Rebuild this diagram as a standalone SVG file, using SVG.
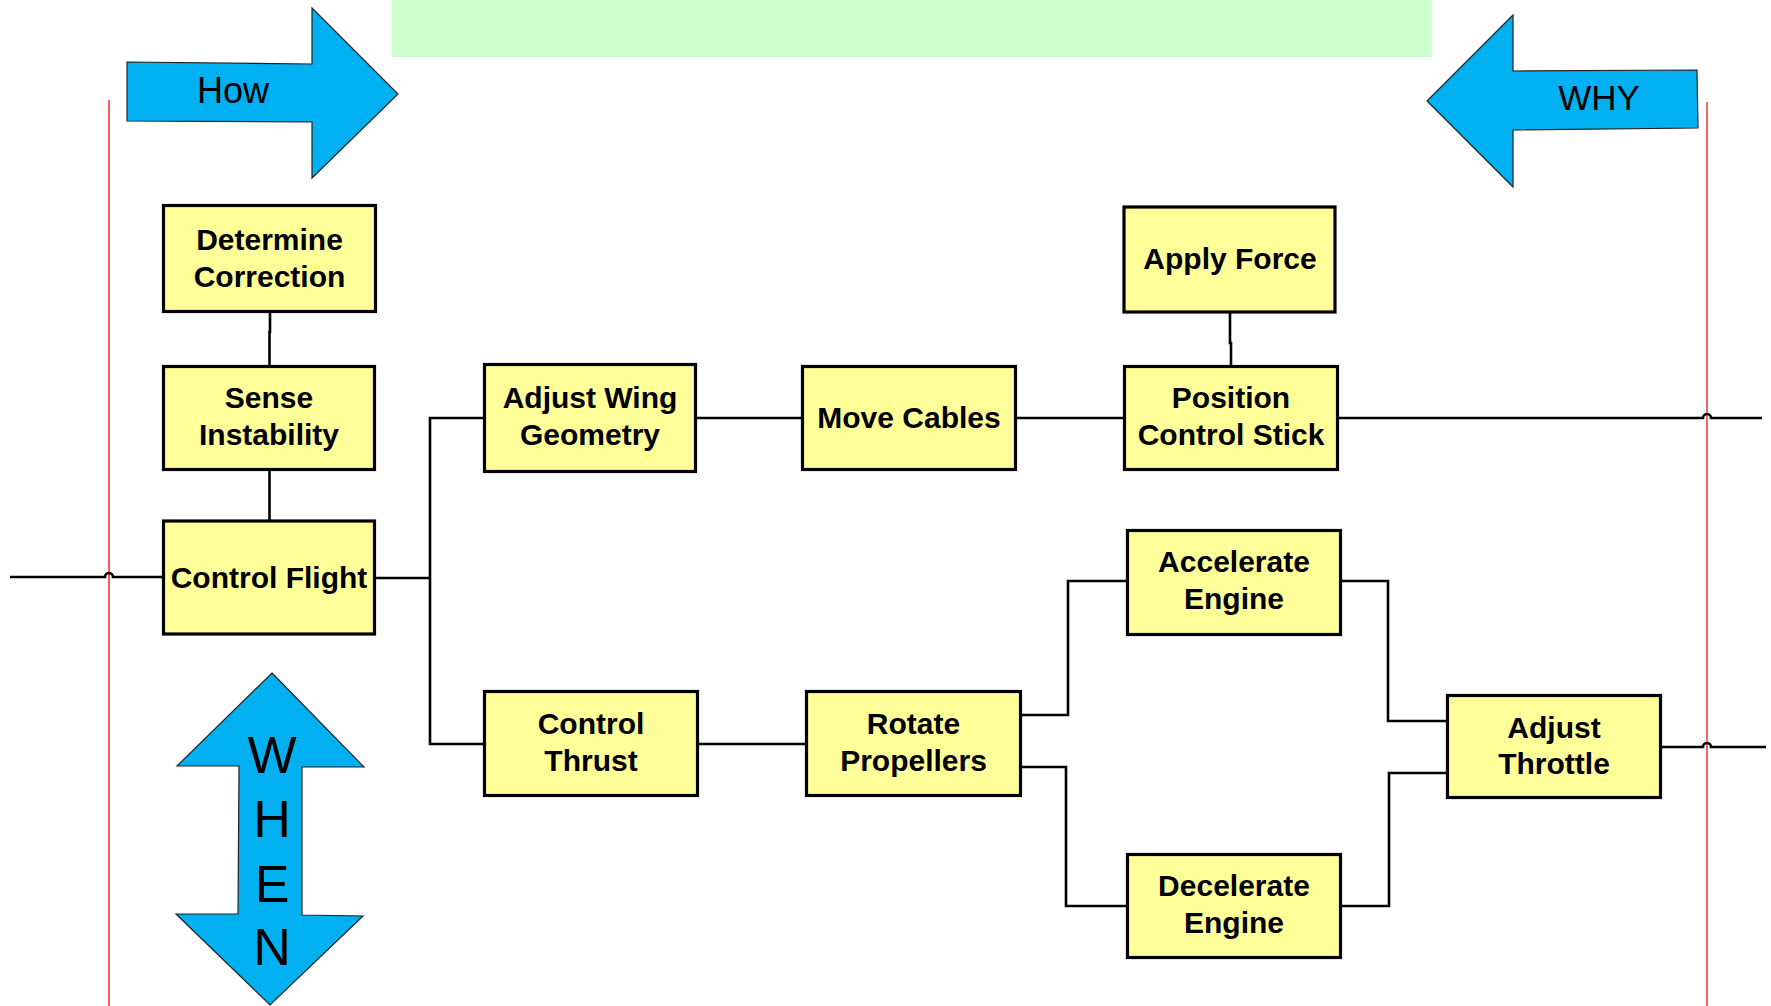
<svg xmlns="http://www.w3.org/2000/svg" width="1771" height="1006" viewBox="0 0 1771 1006">
<style>
.box{fill:#ffff99;stroke:#000;stroke-width:3.2}
.lbl{font-family:"Liberation Sans",Arial,sans-serif;font-weight:bold;font-size:30px;fill:#000;text-anchor:middle}
.arr{fill:#00b0f0;stroke:#222;stroke-width:1.2}
.atx{font-family:"Liberation Sans",Arial,sans-serif;fill:#000;text-anchor:middle}
.con{fill:none;stroke:#000;stroke-width:2.6}
</style>
<rect x="0" y="0" width="1771" height="1006" fill="#fff"/>
<rect x="392" y="0" width="1040" height="57" fill="#ccffcc"/>
<line x1="109" y1="100" x2="109" y2="1006" stroke="#ff0000" stroke-width="1.3"/>
<line x1="1707" y1="102" x2="1707" y2="1006" stroke="#f26666" stroke-width="2"/>
<g id="arrow-how">
<polygon class="arr" points="127,62 312,64 312,8 398,94 312,178 312,122 127,121"/>
<text class="atx" x="233" y="103" font-size="36">How</text>
</g>
<g id="arrow-why">
<polygon class="arr" points="1427,101 1513,15 1513,71 1697,70 1698,128 1513,130 1513,187"/>
<text class="atx" x="1599" y="110" font-size="35">WHY</text>
</g>
<g id="arrow-when">
<polygon class="arr" points="272,673 364,767 302,767 302,915 363,916 270,1005 176,914 238,914 239,766 177,766"/>
<text class="atx" x="272" y="773" font-size="52">W</text>
<text class="atx" x="272" y="837" font-size="52">H</text>
<text class="atx" x="272" y="902" font-size="52">E</text>
<text class="atx" x="272" y="965" font-size="52">N</text>
</g>
<g id="connectors">
<path class="con" d="M270,313 V332 H269.5 V365"/>
<path class="con" d="M269.5,471 V520"/>
<path class="con" stroke-width="1.8" d="M10,577 H105 a4,4 0 0 1 8,0 H162"/>
<path class="con" d="M376,578 H430"/>
<path class="con" d="M483,418 H430 V744 H483"/>
<path class="con" d="M697,418 H801"/>
<path class="con" d="M1017,418 H1123"/>
<path class="con" d="M1230,313 V343 H1231 V365"/>
<path class="con" d="M1339,418 H1703 a4,4 0 0 1 8,0 H1762"/>
<path class="con" d="M699,744 H805"/>
<path class="con" d="M1022,715 H1068 V581 H1126"/>
<path class="con" d="M1022,767 H1066 V906 H1126"/>
<path class="con" d="M1342,581 H1388 V721 H1446"/>
<path class="con" d="M1342,906 H1389 V773 H1446"/>
<path class="con" d="M1662,747 H1703 a4,4 0 0 1 8,0 H1766"/>
</g>
<g id="determine-correction">
<rect class="box" x="163.5" y="205.5" width="212" height="106"/>
<text class="lbl" x="269.5" y="250">Determine</text>
<text class="lbl" x="269.5" y="287">Correction</text>
</g>
<g id="sense-instability">
<rect class="box" x="163.5" y="366.5" width="211" height="103"/>
<text class="lbl" x="269" y="408">Sense</text>
<text class="lbl" x="269" y="445">Instability</text>
</g>
<g id="control-flight">
<rect class="box" x="163.5" y="521" width="211" height="113"/>
<text class="lbl" x="269" y="588">Control Flight</text>
</g>
<g id="adjust-wing-geometry">
<rect class="box" x="484.5" y="364.5" width="211" height="107"/>
<text class="lbl" x="590" y="408">Adjust Wing</text>
<text class="lbl" x="590" y="445">Geometry</text>
</g>
<g id="move-cables">
<rect class="box" x="802.5" y="366.5" width="213" height="103"/>
<text class="lbl" x="909" y="428">Move Cables</text>
</g>
<g id="apply-force">
<rect class="box" x="1124" y="207" width="211" height="105"/>
<text class="lbl" x="1230" y="269">Apply Force</text>
</g>
<g id="position-control-stick">
<rect class="box" x="1124.5" y="366.5" width="213" height="103"/>
<text class="lbl" x="1231" y="408">Position</text>
<text class="lbl" x="1231" y="445">Control Stick</text>
</g>
<g id="control-thrust">
<rect class="box" x="484.5" y="691.5" width="213" height="104"/>
<text class="lbl" x="591" y="734">Control</text>
<text class="lbl" x="591" y="771">Thrust</text>
</g>
<g id="rotate-propellers">
<rect class="box" x="806.5" y="691.5" width="214" height="104"/>
<text class="lbl" x="913.5" y="734">Rotate</text>
<text class="lbl" x="913.5" y="771">Propellers</text>
</g>
<g id="accelerate-engine">
<rect class="box" x="1127.5" y="530.5" width="213" height="104"/>
<text class="lbl" x="1234" y="572">Accelerate</text>
<text class="lbl" x="1234" y="609">Engine</text>
</g>
<g id="decelerate-engine">
<rect class="box" x="1127.5" y="854.5" width="213" height="103"/>
<text class="lbl" x="1234" y="896">Decelerate</text>
<text class="lbl" x="1234" y="933">Engine</text>
</g>
<g id="adjust-throttle">
<rect class="box" x="1447.5" y="695.5" width="213" height="102"/>
<text class="lbl" x="1554" y="738">Adjust</text>
<text class="lbl" x="1554" y="774">Throttle</text>
</g>
</svg>
